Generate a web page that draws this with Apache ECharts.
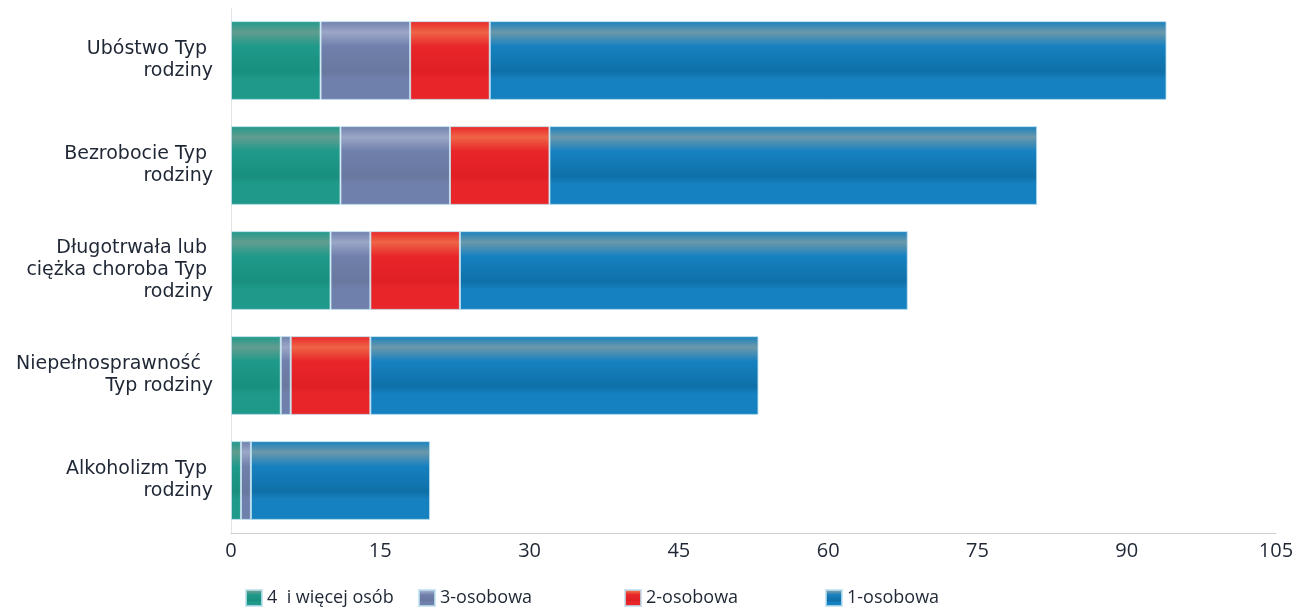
<!DOCTYPE html>
<html>
<head>
<meta charset="utf-8">
<script src="https://cdn.jsdelivr.net/npm/echarts@6/dist/echarts.min.js"></script>
<style>
html,body{margin:0;padding:0;background:#fff;}
#chart{width:1299px;height:610px;}
</style>
</head>
<body>
<div id="chart"></div>
<script>
const categories = [
  "Ubóstwo Typ \nrodziny",
  "Bezrobocie Typ \nrodziny",
  "Długotrwała lub \nciężka choroba Typ \nrodziny",
  "Niepełnosprawność  \nTyp rodziny",
  "Alkoholizm Typ \nrodziny"
];
const seriesNames = ["4  i więcej osób", "3-osobowa", "2-osobowa", "1-osobowa"];
const s4plus = [9, 11, 10, 5, 1];
const s3 = [9, 11, 4, 1, 1];
const s2 = [8, 10, 9, 8, 0];
const s1 = [68, 49, 45, 39, 18];
const xTicks = [0, 15, 30, 45, 60, 75, 90, 105];

const values = [s4plus, s3, s2, s1];
const palettes = [
  {base:'#1f9a8a', hi:'#619d90', dark:'#188f7f'},
  {base:'#7080ac', hi:'#9ca7c7', dark:'#68789f'},
  {base:'#e8262a', hi:'#ef6446', dark:'#e01f25'},
  {base:'#1681c0', hi:'#6c98aa', dark:'#0f70a8'}
];
function grad(p){
  return new echarts.graphic.LinearGradient(0,0,0,1,[
    {offset:0, color:p.base},
    {offset:0.14, color:p.hi},
    {offset:0.32, color:p.base},
    {offset:0.64, color:p.dark},
    {offset:0.74, color:p.base},
    {offset:1, color:p.base}
  ]);
}

const chart = echarts.init(document.getElementById('chart'));
const legendLefts = [240, 413, 619, 820];
chart.setOption({
  animation:false,
  backgroundColor:'#ffffff',
  grid:{left:231, right:23, top:8, bottom:77, containLabel:false},
  legend: seriesNames.map((n,i)=>({
    data:[n], left:legendLefts[i], top:584, itemWidth:16, itemHeight:16, icon:'rect',
    textStyle:{fontFamily:'Open Sans', fontSize:18, color:'#1f2735'}
  })),
  xAxis:{
    type:'value', min:xTicks[0], max:xTicks[xTicks.length-1], interval:15,
    splitLine:{show:false}, axisTick:{show:false},
    axisLine:{show:true, lineStyle:{color:'#c3c7cc', type:'dotted', width:1}},
    axisLabel:{fontFamily:'Open Sans', fontSize:20, color:'#1f2735', margin:8}
  },
  yAxis:{
    type:'category', data:categories, inverse:true,
    axisTick:{show:false},
    axisLine:{show:true, lineStyle:{color:'#e2e4e6'}},
    axisLabel:{fontFamily:'DejaVu Sans', fontSize:19, lineHeight:22, color:'#1f2735', align:'right', margin:18}
  },
  series: values.map((v,i)=>({
    name:seriesNames[i], type:'bar', stack:'total', data:v,
    barCategoryGap:'25%',
    itemStyle:{color:grad(palettes[i]), borderColor:'rgba(190,225,240,0.8)', borderWidth:1},
    emphasis:{disabled:true}
  }))
});
</script>
</body>
</html>
